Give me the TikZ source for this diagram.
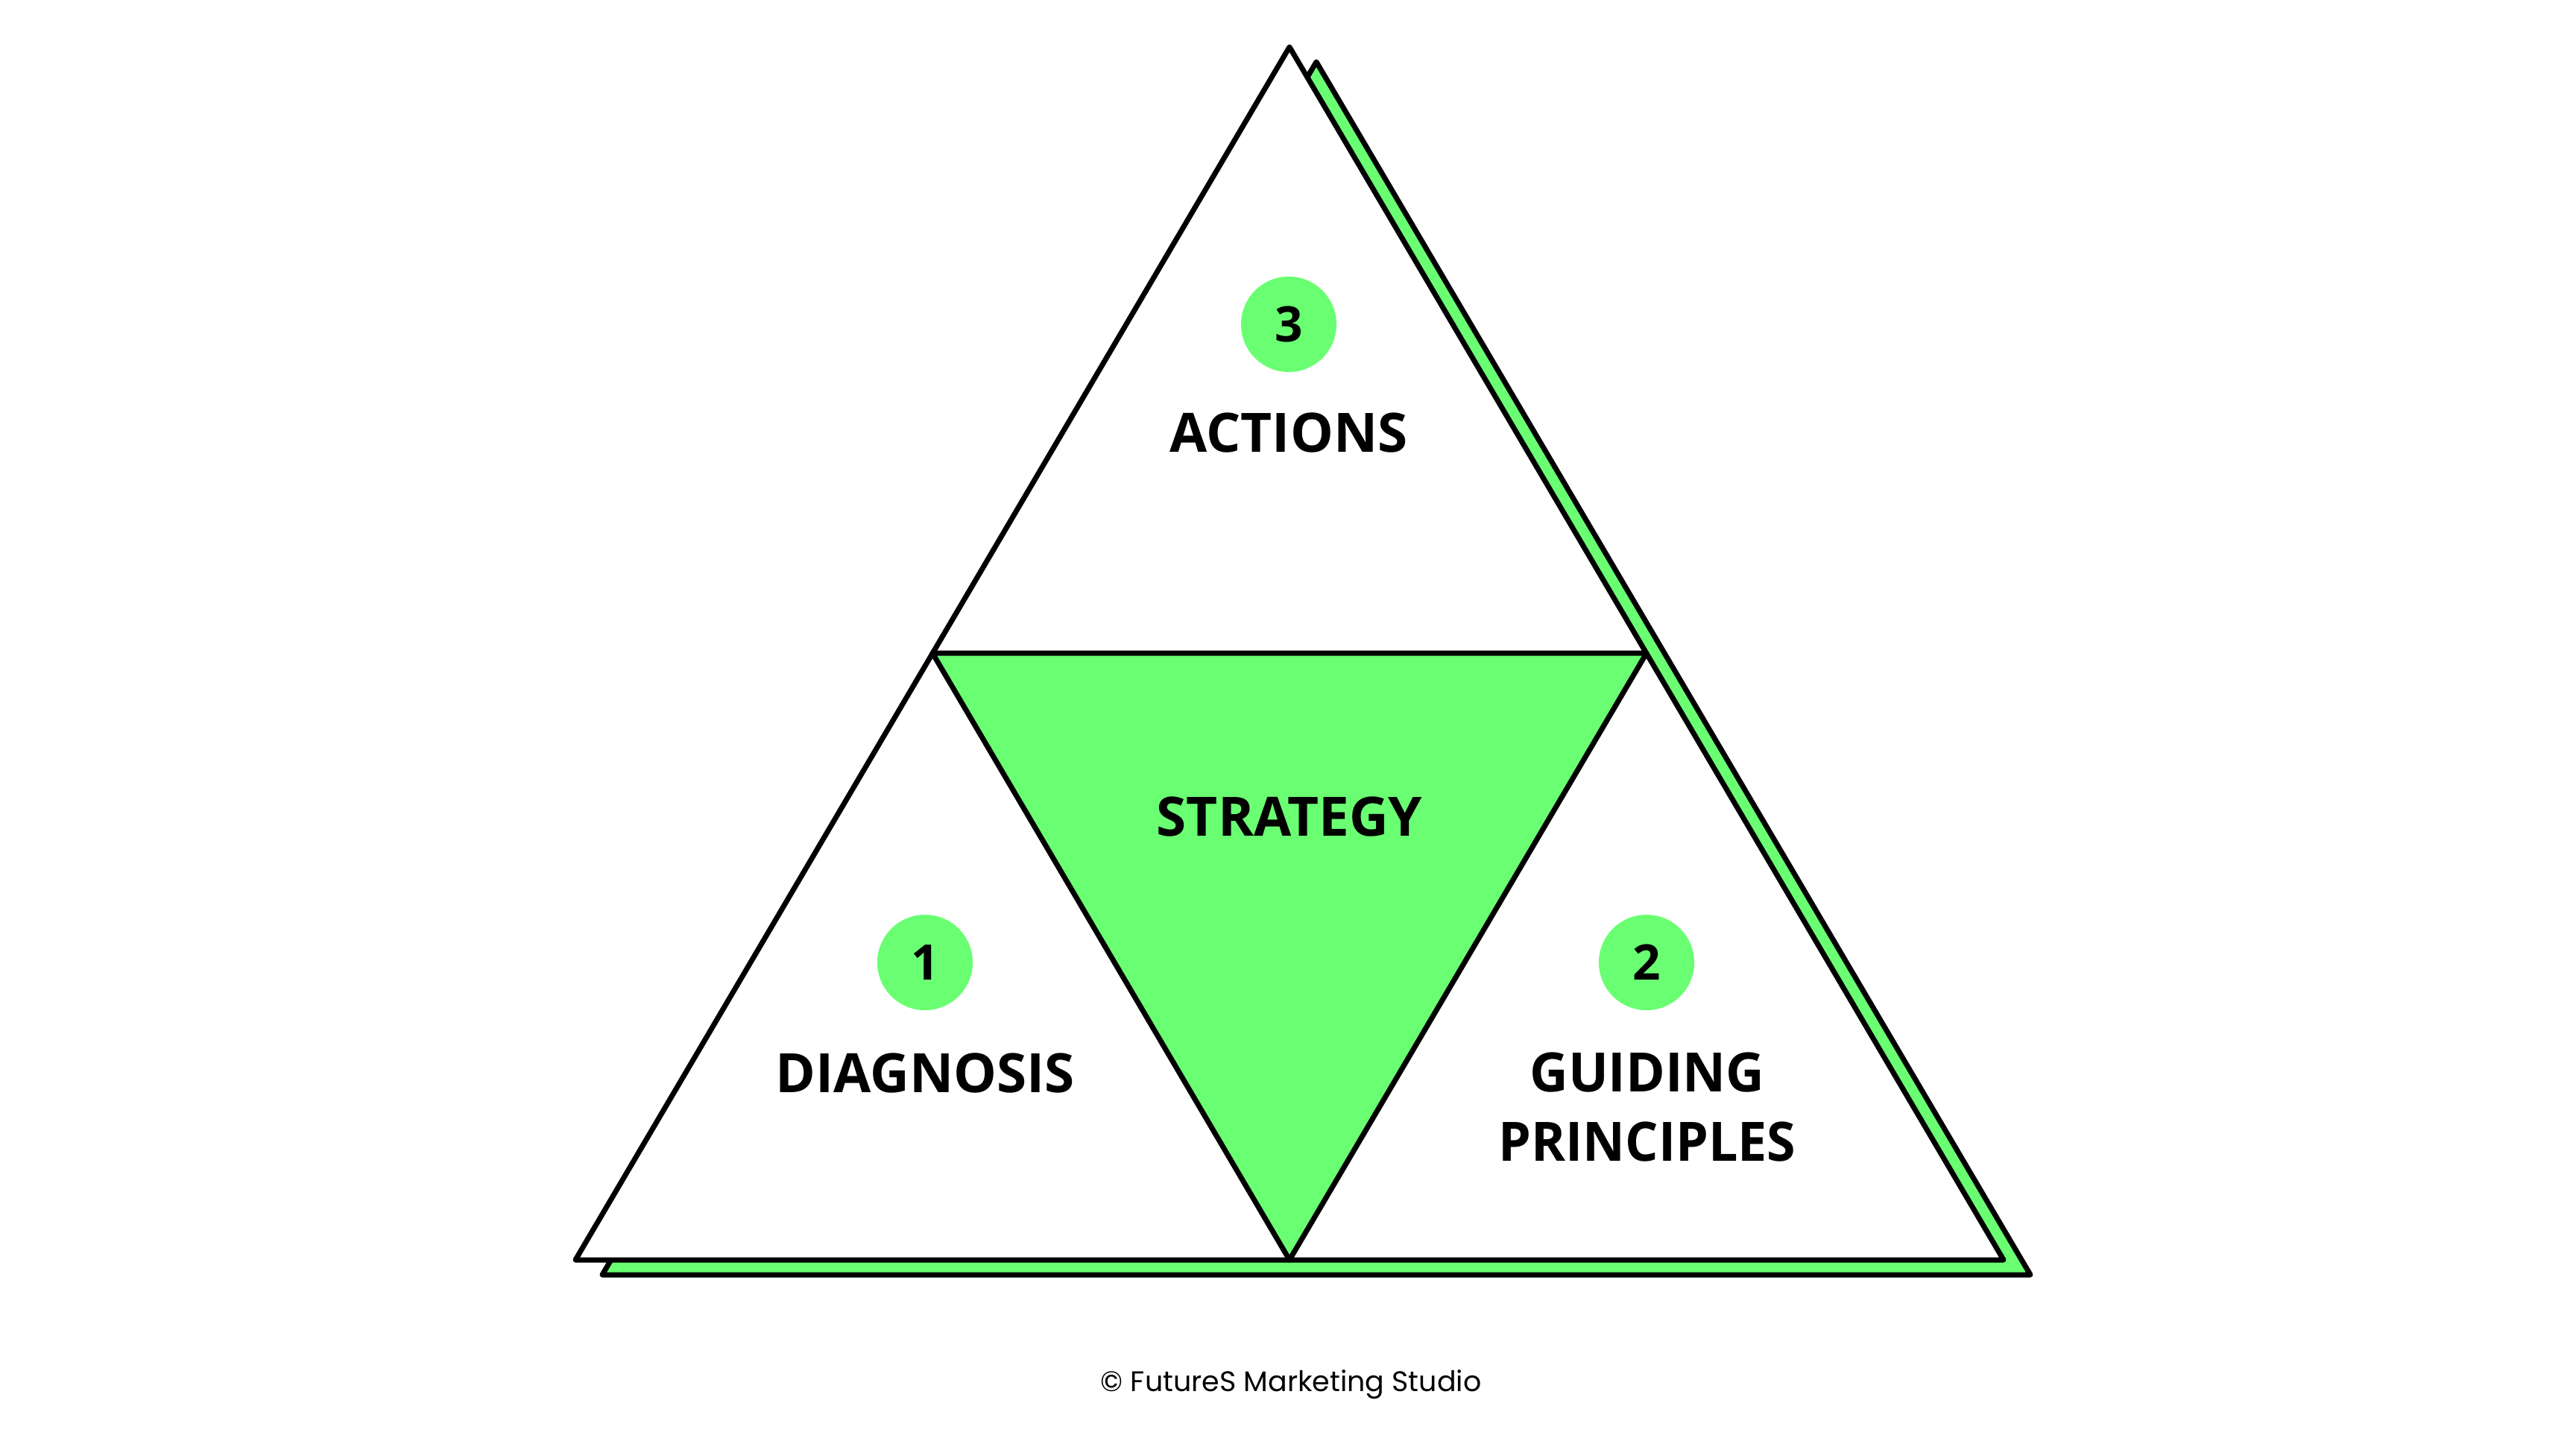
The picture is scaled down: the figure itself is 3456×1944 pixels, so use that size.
\documentclass[tikz,border=0pt]{standalone}
\usepackage{fontspec}
\newfontfamily\labelfont{Open Sans}
\newfontfamily\footfont{Poppins}
\definecolor{strgreen}{RGB}{106,255,114}
\begin{document}
\begin{tikzpicture}[x=0.01cm,y=-0.01cm,
  edge/.style={draw=black,line width=2pt,line join=round},
  numdot/.style={circle,fill=strgreen,minimum size=1.28cm,inner sep=0pt,font=\labelfont\bfseries\fontsize{18.7}{20}\selectfont},
  lbl/.style={anchor=base,inner sep=0pt,font=\labelfont\bfseries\fontsize{20.7}{24}\selectfont},
  foot/.style={anchor=base,inner sep=0pt,font=\footfont\fontsize{10.8}{12}\selectfont}]
\useasboundingbox[fill=white] (0,0) rectangle (3456,1944);
% vertices
\coordinate (T) at (1730,63);
\coordinate (BL) at (772,1690);
\coordinate (BR) at (2688,1690);
\coordinate (ML) at (1251,876);
\coordinate (MR) at (2209,876);
\coordinate (BM) at (1730,1690);
% shadow
\coordinate (sT) at (1766,83);
\coordinate (sBL) at (808,1710);
\coordinate (sBR) at (2724,1710);
\path[edge,fill=strgreen] (sT) -- (sBL) -- (sBR) -- cycle;
% main triangle
\path[edge,fill=white] (T) -- (BL) -- (BR) -- cycle;
% inner inverted triangle
\path[edge,fill=strgreen] (ML) -- (MR) -- (BM) -- cycle;
% number circles
\node[numdot] (n3) at (1729,435) {3};
\node[numdot] (n1) at (1241,1291) {1};
\node[numdot] (n2) at (2209,1291) {2};
% labels
\node[lbl] (actions) at (1729,606) {ACTIONS};
\node[lbl] (strategy) at (1730,1121) {STRATEGY};
\node[lbl] (diagnosis) at (1241,1465) {DIAGNOSIS};
\node[lbl,xscale=0.98] (guiding) at (2210,1464) {GUIDING};
\node[lbl,xscale=0.96] (principles) at (2210,1557) {PRINCIPLES};
\node[foot] (footer) at (1732,1866) {© FutureS Marketing Studio};
\end{tikzpicture}
\end{document}
